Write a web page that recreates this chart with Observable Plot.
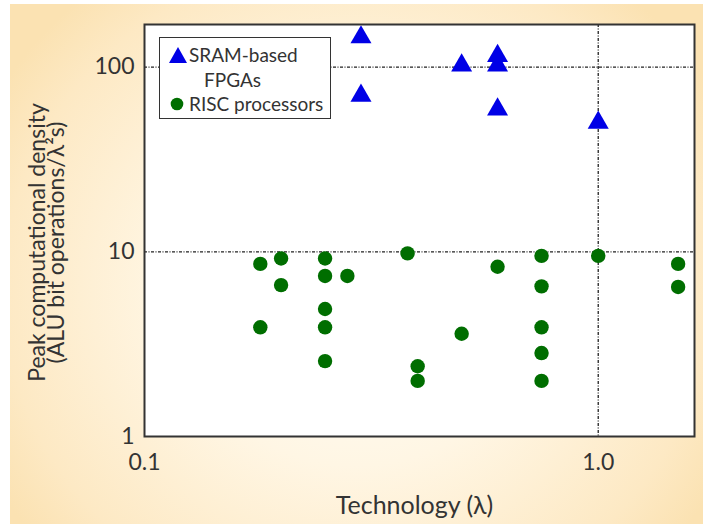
<!DOCTYPE html>
<html>
<head>
<meta charset="utf-8">
<script src="https://cdn.jsdelivr.net/npm/d3@7"></script>
<script src="https://cdn.jsdelivr.net/npm/@observablehq/plot@0.6"></script>
<style>
  html, body { margin: 0; padding: 0; background: #ffffff; }
  #wrap { position: relative; width: 703px; height: 529px; overflow: hidden; }
  #paper { position: absolute; left: 10px; top: 4px; width: 693px; height: 520px;
    background: radial-gradient(ellipse 60% 75% at 50% 55%, #fffefa 0%, #fff6e4 45%, #fde9c4 85%, #fbe2b2 100%); }
  #chart { position: absolute; left: 0; top: 0; }
  #legend { position: absolute; left: 159px; top: 37px; width: 170px; height: 80px;
    border: 1.5px solid #333; background: #fff; font-family: Lato, "Open Sans", sans-serif;
    font-size: 19px; color: #333; }
  #legend .t { position: absolute; white-space: nowrap; line-height: 20px; }
  #legend svg { position: absolute; }
</style>
</head>
<body>
<div id="wrap">
  <div id="paper"></div>
  <div id="chart"></div>
  <div id="legend">
    <svg style="left:8px;top:8px" width="20" height="19"><path d="M10,1 L19,17 L1,17 Z" fill="#0000e6"/></svg>
    <span class="t" style="left:29px;top:7px">SRAM-based</span>
    <span class="t" style="left:44px;top:32px">FPGAs</span>
    <svg style="left:10px;top:59px" width="14" height="14"><circle cx="7" cy="7" r="6.3" fill="#006e00"/></svg>
    <span class="t" style="left:29px;top:56px">RISC processors</span>
  </div>
</div>
<script>
// FPGA (SRAM-based) points: technology λ and density
const fpgaX = [0.3, 0.3, 0.5, 0.6, 0.6, 0.6, 1.0];
const fpgaY = [145, 70, 102, 115, 102, 59, 50];

// RISC processors
const riscX = [0.18, 0.18, 0.2, 0.2, 0.25, 0.25, 0.25, 0.25, 0.25, 0.28, 0.38, 0.40, 0.40, 0.5, 0.6,
               0.75, 0.75, 0.75, 0.75, 0.75, 1.0, 1.5, 1.5];
const riscY = [8.6, 3.9, 9.2, 6.6, 9.2, 7.4, 4.9, 3.9, 2.56, 7.4, 9.8, 2.4, 2.0, 3.6, 8.3,
               9.5, 6.5, 3.9, 2.83, 2.0, 9.5, 8.6, 6.45];

const xTicks = [0.1, 1.0];
const xTickLabels = ["0.1", "1.0"];
const yTicks = [1, 10, 100];
const yTickLabels = ["1", "10", "100"];
const gridX = [1.0];
const gridY = [10, 100];
const xTitle = "Technology (λ)";
const yTitle = "Peak computational density\n(ALU bit operations/λ²s)";

const fpga = fpgaX.map((x, i) => ({x, y: fpgaY[i]}));
const risc = riscX.map((x, i) => ({x, y: riscY[i]}));

const dash = "3,1.5,1,1.5";

const chart = Plot.plot({
  width: 703,
  height: 529,
  marginLeft: 144,
  marginRight: 9,
  marginTop: 24,
  marginBottom: 93,
  x: {type: "log", domain: [0.1, 1.63]},
  y: {type: "log", domain: [1, 170]},
  style: {background: "transparent", fontFamily: "Lato, 'Open Sans', sans-serif", fontSize: "23px", color: "#333"},
  marks: [
    Plot.frame({fill: "white"}),
    Plot.ruleX(gridX, {stroke: "#222", strokeWidth: 1.3, strokeDasharray: dash}),
    Plot.ruleY(gridY, {stroke: "#222", strokeWidth: 1.3, strokeDasharray: dash}),
    Plot.dot(risc, {x: "x", y: "y", r: 7.2, fill: "#006e00", symbol: "circle"}),
    Plot.dot(fpga, {x: "x", y: "y", r: 7.8, fill: "#0000e6", symbol: "triangle"}),
    Plot.frame({stroke: "#333", strokeWidth: 2}),
    Plot.axisX(xTicks, {tickSize: 0, tickPadding: 17, tickFormat: d => xTickLabels[xTicks.indexOf(d)], label: null, fontSize: 23, fill: "#333"}),
    Plot.axisY(yTicks, {tickSize: 0, tickPadding: 10, tickFormat: d => yTickLabels[yTicks.indexOf(d)], label: null, fontSize: 23, fill: "#333"}),
    Plot.text([xTitle], {text: d => d, frameAnchor: "bottom", dx: -5, dy: 77, fontSize: 25, fill: "#333"}),
    Plot.text([yTitle], {text: d => d, frameAnchor: "left", textAnchor: "middle", dx: -96, dy: 12, rotate: -90, fontSize: 23, lineHeight: 0.8, fill: "#333"})
  ]
});
document.getElementById("chart").appendChild(chart);
</script>
</body>
</html>
